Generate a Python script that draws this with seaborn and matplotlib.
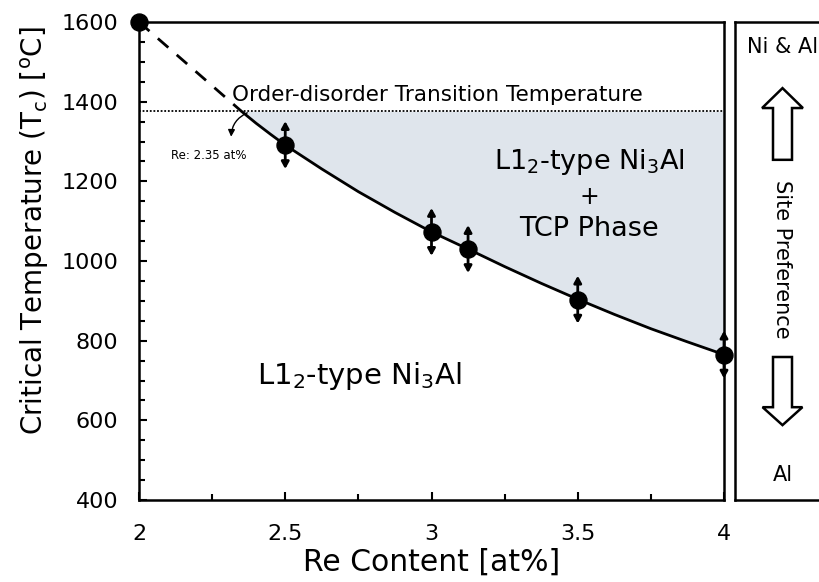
import matplotlib
matplotlib.use("Agg")
import matplotlib.pyplot as plt
import seaborn as sns
import numpy as np
import pandas as pd
from matplotlib.ticker import MultipleLocator
from matplotlib.patches import FancyArrow

# ---- data ----
re_content = [2.0, 2.5, 3.0, 3.125, 3.5, 4.0]
tc_values = [1600, 1291, 1073, 1030, 903, 765]
tc_err = [0, 60, 60, 60, 60, 60]

curve_x = [2.35, 2.4, 2.45, 2.5, 2.625, 2.75, 2.875, 3.0, 3.125, 3.25, 3.375, 3.5, 3.625, 3.75, 3.875, 4.0]
curve_y = [1376, 1346, 1318, 1291, 1231, 1174, 1122, 1073, 1030, 986, 944, 904, 866, 830, 797, 765]

dash_x = [2.0, 2.35]
dash_y = [1600, 1376]

transition_temp = 1376
x_ticks = [2, 2.5, 3, 3.5, 4]
x_tick_labels = ["2", "2.5", "3", "3.5", "4"]
y_ticks = [400, 600, 800, 1000, 1200, 1400, 1600]

sns.set_style("ticks", {"text.color": "black", "axes.labelcolor": "black",
                        "xtick.color": "black", "ytick.color": "black",
                        "axes.edgecolor": "black"})
plt.rcParams['font.family'] = ['DejaVu Sans']
plt.rcParams['mathtext.default'] = 'regular'
plt.rcParams['mathtext.fontset'] = 'dejavusans'

fig = plt.figure(figsize=(8.19, 5.82), dpi=100)
ax = fig.add_axes([139/819, 82/582, 585/819, 478/582])
ax2 = fig.add_axes([735/819, 82/582, 95/819, 478/582])

# shaded region
cx = np.array(curve_x)
cy = np.array(curve_y)
ax.fill_between(cx, cy, transition_temp, color="#dfe5ec", lw=0, zorder=0)

# transition line
ax.axhline(transition_temp, color="black", ls=(0, (1, 1)), lw=1.3, zorder=1)

df_curve = pd.DataFrame({"x": curve_x, "y": curve_y})
sns.lineplot(data=df_curve, x="x", y="y", ax=ax, color="black", lw=2, zorder=3, sort=True)
df_dash = pd.DataFrame({"x": dash_x, "y": dash_y})
sns.lineplot(data=df_dash, x="x", y="y", ax=ax, color="black", lw=2, ls=(0, (5, 4)), zorder=3)

df_pts = pd.DataFrame({"x": re_content, "y": tc_values})
sns.scatterplot(data=df_pts, x="x", y="y", ax=ax, color="black", s=150,
                edgecolor="black", zorder=5, clip_on=False, legend=False)

for x, y, e in zip(re_content, tc_values, tc_err):
    if e <= 0:
        continue
    for sgn in (1, -1):
        ax.annotate("", xy=(x, y + sgn * e), xytext=(x, y),
                    arrowprops=dict(arrowstyle="-|>,head_length=0.4,head_width=0.22",
                                    color="black", lw=2, shrinkA=0, shrinkB=0),
                    zorder=4)

ax.set_xlim(2, 4)
ax.set_ylim(400, 1600)
ax.set_xticks(x_ticks)
ax.set_xticklabels(x_tick_labels)
ax.set_yticks(y_ticks)
ax.xaxis.set_minor_locator(MultipleLocator(0.25))
ax.yaxis.set_minor_locator(MultipleLocator(50))
ax.tick_params(which="both", direction="in", top=False, right=False, labelsize=16, width=1.5)
ax.tick_params(which="major", length=6)
ax.tick_params(which="minor", length=4)
ax.tick_params(axis="y", which="major", pad=15)
ax.tick_params(axis="x", which="major", pad=17)
for s in ax.spines.values():
    s.set_linewidth(1.8)
    s.set_visible(True)

ax.set_xlabel("Re Content [at%]", fontsize=21.5)
ax.set_ylabel("Critical Temperature (T$_c$) [$^o$C]", fontsize=20)
ax.xaxis.set_label_coords(0.5, -0.1)
ax.yaxis.set_label_coords(-0.15, 0.563)

ax.text(2.318, 1402, "Order-disorder Transition Temperature", fontsize=15.5,
        ha="left", va="baseline")
ax.annotate("", xy=(2.315, 1312), xytext=(2.37, 1372),
            arrowprops=dict(arrowstyle="-|>,head_length=0.4,head_width=0.2", color="black",
                            lw=1, connectionstyle="arc3,rad=0.3", shrinkA=0, shrinkB=0))
ax.text(2.24, 1266, "Re: 2.35 at%", fontsize=8.5, ha="center", va="center")

ax.text(3.54, 1249, "L1$_2$-type Ni$_3$Al", fontsize=19.5, ha="center", va="center")
ax.text(3.54, 1160, "+", fontsize=17, ha="center", va="center")
ax.text(3.54, 1080, "TCP Phase", fontsize=19.5, ha="center", va="center")
ax.text(2.753, 712, "L1$_2$-type Ni$_3$Al", fontsize=21, ha="center", va="center")

# right panel
ax2.set_xlim(0, 1)
ax2.set_ylim(400, 1600)
ax2.set_xticks([])
ax2.set_yticks([])
for s in ax2.spines.values():
    s.set_linewidth(1.8)
    s.set_visible(True)
ax2.text(0.5, 1537, "Ni & Al", fontsize=15, ha="center", va="center")
ax2.text(0.5, 463, "Al", fontsize=15, ha="center", va="center")
ax2.text(0.5, 1003, "Site Preference", fontsize=15, ha="center", va="center", rotation=-90)
ax2.add_patch(FancyArrow(0.5, 1254, 0, 180, width=0.2, head_width=0.43, head_length=50,
                         length_includes_head=True, facecolor="white", edgecolor="black", lw=1.8))
ax2.add_patch(FancyArrow(0.5, 759, 0, -171, width=0.2, head_width=0.42, head_length=45,
                         length_includes_head=True, facecolor="white", edgecolor="black", lw=1.8))

fig.savefig("out.png", dpi=100)
